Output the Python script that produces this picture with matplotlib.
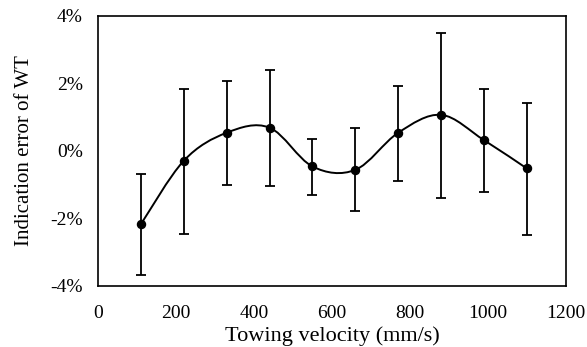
import numpy as np
import matplotlib
matplotlib.use("Agg")
import matplotlib.pyplot as plt
from matplotlib.path import Path
from matplotlib.patches import PathPatch
from matplotlib.ticker import FuncFormatter

# towing velocity (mm/s) and indication error (%)
velocity = [110, 220, 330, 440, 550, 660, 770, 880, 990, 1100]
error = [-2.17, -0.29, 0.54, 0.69, -0.46, -0.56, 0.54, 1.07, 0.32, -0.52]
err_upper = [-0.68, 1.85, 2.07, 2.39, 0.35, 0.68, 1.93, 3.49, 1.83, 1.42]
err_lower = [-3.67, -2.46, -1.01, -1.03, -1.30, -1.79, -0.90, -1.39, -1.21, -2.48]


def smooth_path(xs, ys):
    # Excel style smoothed line: cubic bezier through points
    pts = np.column_stack([xs, ys]).astype(float)
    verts = [pts[0]]
    codes = [Path.MOVETO]
    n = len(pts)
    for i in range(n - 1):
        p0 = pts[i - 1] if i > 0 else pts[i]
        p1 = pts[i]
        p2 = pts[i + 1]
        p3 = pts[i + 2] if i + 2 < n else pts[i + 1]
        c1 = p1 + (p2 - p0) / 6.0
        c2 = p2 - (p3 - p1) / 6.0
        verts += [c1, c2, p2]
        codes += [Path.CURVE4] * 3
    return Path(verts, codes)


plt.rcParams['font.family'] = ['Liberation Serif', 'DejaVu Serif']

fig = plt.figure(figsize=(5.87, 3.47), dpi=100)
ax = fig.add_axes([0.167, 0.176, 0.797, 0.778])

yerr = [np.array(error) - np.array(err_lower), np.array(err_upper) - np.array(error)]
ax.errorbar(velocity, error, yerr=yerr, fmt='o', color='black', ms=5.8,
            elinewidth=1.3, capsize=3.8, capthick=1.3, zorder=3)
ax.add_patch(PathPatch(smooth_path(velocity, error), fill=False,
                       edgecolor='black', lw=1.4, zorder=2))

ax.set_xlim(0, 1200)
ax.set_ylim(-4, 4)
ax.set_xticks(range(0, 1201, 200))
ax.set_yticks(range(-4, 5, 2))
ax.yaxis.set_major_formatter(FuncFormatter(lambda v, p: '{:d}%'.format(int(v))))
ax.tick_params(length=0, labelsize=14)
ax.tick_params(axis='x', pad=14)
ax.tick_params(axis='y', pad=11)
for s in ax.spines.values():
    s.set_linewidth(1.2)

ax.set_xlabel('Towing velocity (mm/s)', fontsize=16, labelpad=3)
ax.set_ylabel('Indication error of WT', fontsize=15)
ax.yaxis.set_label_coords(-0.137, 0.5)

fig.savefig('out.png', dpi=100)
